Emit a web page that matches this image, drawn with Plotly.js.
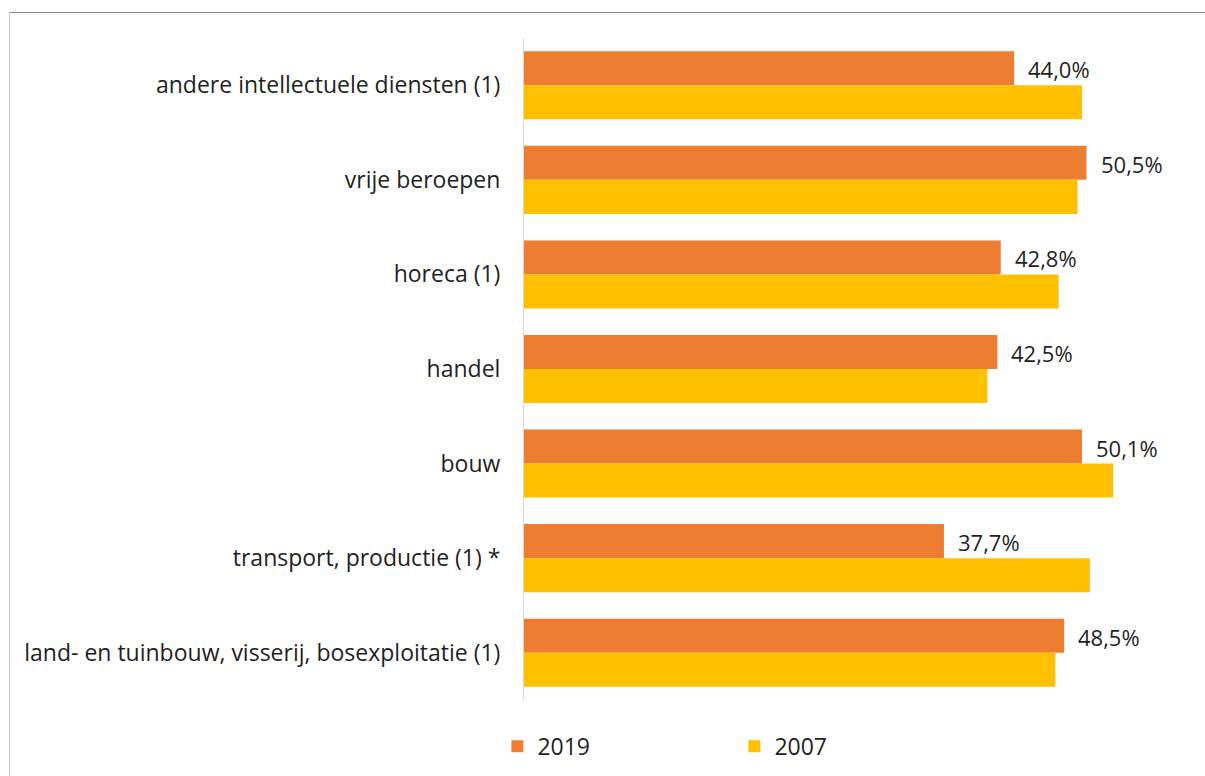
<!DOCTYPE html>
<html>
<head>
<meta charset="utf-8">
<script src="https://cdn.plot.ly/plotly-3.0.1.min.js"></script>
<style>
  html, body { margin: 0; padding: 0; background: #ffffff; }
  #chart { width: 1205px; height: 776px; }
  #frame {
    position: absolute; left: 9px; top: 12px; right: -2px; bottom: -2px;
    border-top: 1px solid #8c8c8c; border-left: 1px solid #c8c8c8;
    pointer-events: none;
  }
</style>
</head>
<body>
<div id="chart"></div>
<div id="frame"></div>
<script>
// categories listed top to bottom as in the picture
const categories = [
  "andere intellectuele diensten (1)",
  "vrije beroepen",
  "horeca (1)",
  "handel",
  "bouw",
  "transport, productie (1) *",
  "land- en tuinbouw, visserij, bosexploitatie (1)"
];
const values2019 = [44.0, 50.5, 42.8, 42.5, 50.1, 37.7, 48.5];
const values2007 = [50.1, 49.7, 48.0, 41.6, 52.9, 50.8, 47.7];

const orange = "#ED7D31";
const yellow = "#FFC000";
const textColor = "#1f1f1f";
const font = "'Open Sans', sans-serif";

const traces = [
  {
    type: "bar",
    orientation: "h",
    name: "2019",
    y: categories,
    x: values2019,
    marker: { color: orange, line: { width: 0 } },
    hoverinfo: "x+y"
  },
  {
    type: "bar",
    orientation: "h",
    name: "2007",
    y: categories,
    x: values2007,
    marker: { color: yellow, line: { width: 0 } },
    hoverinfo: "x+y"
  }
];

// value labels only for 2019, placed right of the 2019 bar
const labels = values2019.map((v, i) => ({
  x: v,
  y: categories[i],
  xref: "x",
  yref: "y",
  text: v.toFixed(1).replace(".", ",") + "%",
  showarrow: false,
  xanchor: "left",
  yanchor: "middle",
  xshift: 12,
  yshift: 16,
  font: { family: font, size: 22, color: textColor }
}));

const layout = {
  width: 1205,
  height: 776,
  margin: { l: 524, r: 16, t: 38, b: 76, autoexpand: false },
  paper_bgcolor: "#ffffff",
  plot_bgcolor: "#ffffff",
  font: { family: font, size: 23, color: textColor },
  barmode: "group",
  bargap: 0.28,
  bargroupgap: 0,
  showlegend: true,
  xaxis: {
    range: [0, 59.7],
    visible: false,
    showgrid: false,
    zeroline: false,
    fixedrange: true
  },
  yaxis: {
    autorange: "reversed",
    showline: true,
    linecolor: "#d9d9d9",
    linewidth: 1,
    showgrid: false,
    zeroline: false,
    ticks: "",
    ticklabelstandoff: 18,
    tickfont: { family: font, size: 23, color: textColor },
    fixedrange: true
  },
  legend: {
    orientation: "h",
    x: -0.040,
    xanchor: "left",
    y: -0.07,
    yanchor: "middle",
    entrywidth: 192,
    itemwidth: 30,
    font: { family: font, size: 23, color: textColor },
    bgcolor: "rgba(0,0,0,0)"
  },
  annotations: labels
};

Plotly.newPlot("chart", traces, layout, { displayModeBar: false, staticPlot: true });
</script>
</body>
</html>
